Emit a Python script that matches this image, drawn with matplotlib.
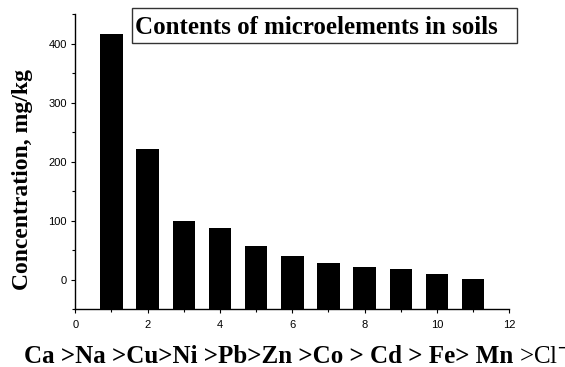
import numpy as np
import matplotlib
matplotlib.use('Agg')
import matplotlib.pyplot as plt
from matplotlib.ticker import MultipleLocator
from matplotlib.patches import Rectangle

# bar positions and concentration values (mg/kg)
positions = np.arange(1, 12)
values = np.array([417, 222, 100, 87, 57, 40, 29, 21, 18, 10, 1])

ymin, ymax = -50, 450
W, H = 565, 367

fig = plt.figure(figsize=(W / 100, H / 100), dpi=100)
# axes box in pixels: left 75.3, right 509.3, top 14.3, bottom 309.3
ax = fig.add_axes([75.3 / W, 1 - 309.3 / H, (509.3 - 75.3) / W, (309.3 - 14.3) / H])

# bars start from the bottom of the axis, like in Origin
ax.bar(positions, values - ymin, bottom=ymin, width=0.62, color='black')

ax.set_xlim(0, 12)
ax.set_ylim(ymin, ymax)
ax.xaxis.set_major_locator(MultipleLocator(2))
ax.xaxis.set_minor_locator(MultipleLocator(1))
ax.set_yticks([0, 100, 200, 300, 400])
ax.yaxis.set_minor_locator(MultipleLocator(50))

ax.spines['top'].set_visible(False)
ax.spines['right'].set_visible(False)
for s in ['left', 'bottom']:
    ax.spines[s].set_linewidth(1.0)

ax.tick_params(which='major', direction='out', length=3, width=0.8, labelsize=8)
ax.tick_params(axis='x', which='major', pad=5)
ax.tick_params(axis='y', which='major', pad=3)
ax.tick_params(which='minor', direction='out', length=2, width=0.8)
for lab in ax.get_xticklabels() + ax.get_yticklabels():
    lab.set_family('Liberation Sans')

# title box
fig.add_artist(Rectangle((132 / W, 1 - 42.7 / H), (517.3 - 132) / W, (42.7 - 8) / H,
                         transform=fig.transFigure, facecolor='white',
                         edgecolor='#333333', linewidth=1.0, zorder=5))
fig.text(135 / W, 1 - 33.5 / H, 'Contents of microelements in soils',
         ha='left', va='baseline', family='Liberation Serif', weight='bold', fontsize=18,
         zorder=6)

# y label
fig.text(23 / W, 1 - 180 / H, 'Concentration, mg/kg', rotation=90,
         ha='center', va='center', family='Liberation Serif', weight='bold', fontsize=17)

# x label: bold series, last element in regular weight
fig.text(519 / W, 1 - 363 / H, 'Ca >Na >Cu>Ni >Pb>Zn >Co > Cd > Fe> Mn ',
         ha='right', va='baseline', family='Liberation Serif', weight='bold', fontsize=18)
fig.text(519 / W, 1 - 363 / H, r'>Cl$^{-}$',
         ha='left', va='baseline', family='Liberation Serif', fontsize=18)

fig.savefig('out.png', dpi=100)
